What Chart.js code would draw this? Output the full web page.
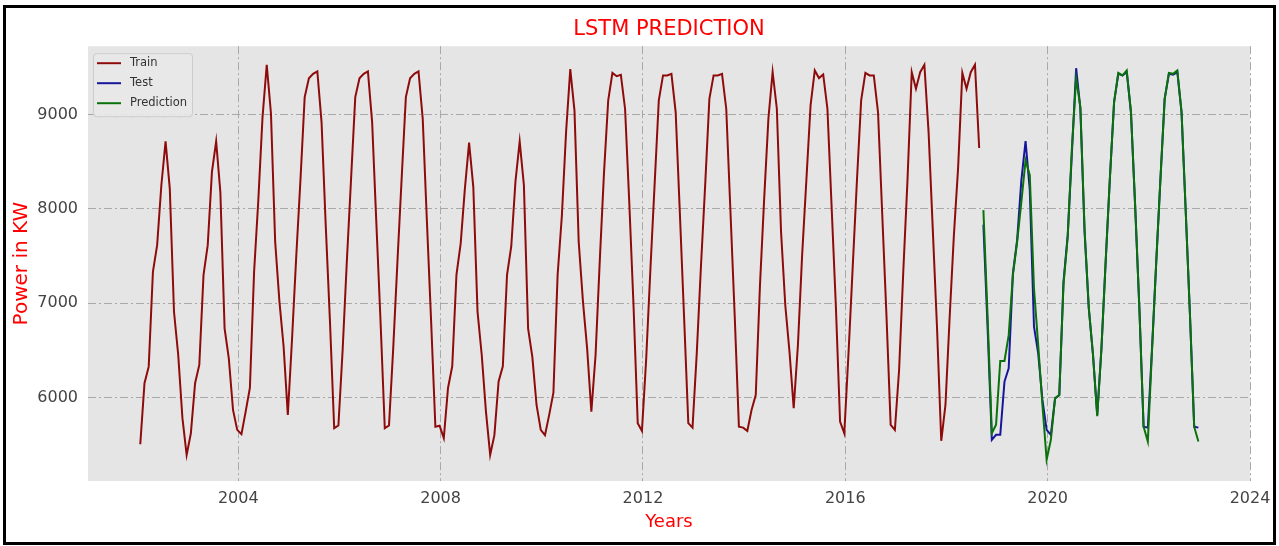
<!DOCTYPE html>
<html>
<head>
<meta charset="utf-8">
<script src="https://cdn.jsdelivr.net/npm/chart.js@4.4.1/dist/chart.umd.min.js"></script>
<style>
  html, body { margin: 0; padding: 0; background: #fff; }
  #wrap { position: relative; width: 1279px; height: 546px; }
  #frame { position: absolute; left: 3px; top: 5px; width: 1267px; height: 534px; border: 3px solid #000; pointer-events: none; }
</style>
</head>
<body>
<div id="wrap">
  <canvas id="chart" width="1279" height="546" style="width:1279px;height:546px"></canvas>
  <div id="frame"></div>
</div>
<script>
// monthly power readings (month-end), first month of each series
const trainStart = [2002, 1];
const testStart = [2018, 9];

const train = [
  5504, 6150, 6326, 7332, 7614, 8249, 8714, 8213, 6908, 6450, 5780, 5391,
  5620, 6150, 6344, 7296, 7614, 8390, 8714, 8175, 6732, 6414, 5868, 5656,
  5610, 5850, 6100, 7332, 8090, 8972, 9526, 9010, 7650, 7020, 6540, 5815,
  6619, 7497, 8309, 9183, 9384, 9430, 9455, 8919, 7818, 6802, 5674, 5702,
  6500, 7444, 8316, 9183, 9384, 9430, 9455, 8919, 7850, 6800, 5674, 5702,
  6520, 7437, 8320, 9183, 9384, 9430, 9455, 8955, 7860, 6800, 5690, 5700,
  5568, 6100, 6330, 7300, 7630, 8213, 8700, 8230, 6910, 6450, 5850, 5390,
  5600, 6170, 6330, 7300, 7600, 8290, 8714, 8250, 6730, 6430, 5920, 5656,
  5600, 5815, 6050, 7300, 7920, 8810, 9480, 9040, 7650, 7020, 6520, 5850,
  6450, 7450, 8380, 9150, 9440, 9405, 9420, 9060, 8062, 6980, 5727, 5645,
  6400, 7350, 8250, 9150, 9413, 9413, 9430, 9025, 7950, 6850, 5727, 5680,
  6464, 7390, 8250, 9166, 9413, 9413, 9430, 9060, 7966, 6873, 5690, 5680,
  5645, 5867, 6025, 7190, 8110, 8955, 9450, 9060, 7755, 6980, 6485, 5885,
  6555, 7508, 8300, 9095, 9466, 9385, 9423, 9060, 8016, 6970, 5744, 5620,
  6467, 7384, 8300, 9148, 9440, 9413, 9413, 9025, 7945, 6873, 5710, 5656,
  6290, 7340, 8310, 9448, 9272, 9448, 9526, 8810, 7773, 6735, 5540, 5920,
  6855, 7720, 8435, 9440, 9272, 9448, 9526, 8644
];

const test = [
  7832, 6730, 5550, 5603,
  5603, 6168, 6309, 7314, 7667, 8300, 8718, 8200, 6750, 6467, 5973, 5656,
  5603, 5990, 6025, 7226, 7720, 8600, 9490, 9060, 7755, 6944, 6450, 5815,
  6520, 7437, 8320, 9130, 9430, 9413, 9448, 9025, 8026, 6944, 5690, 5680,
  6520, 7437, 8320, 9166, 9430, 9420, 9448, 9025, 7965, 6873, 5690, 5680
];

const prediction = [
  7985, 6850, 5620, 5710,
  6386, 6386, 6660, 7300, 7650, 8070, 8513, 8355, 7155, 6555, 5920, 5340,
  5550, 5990, 6025, 7200, 7700, 8650, 9380, 9080, 7780, 6950, 6450, 5800,
  6520, 7440, 8320, 9130, 9440, 9413, 9466, 9025, 8030, 6944, 5690, 5533,
  6500, 7437, 8320, 9166, 9440, 9430, 9466, 9025, 7965, 6873, 5690, 5533
];

const xTicks = [2004, 2008, 2012, 2016, 2020, 2024];
const yTicks = [6000, 7000, 8000, 9000];

function monthly(start, values) {
  return values.map((v, i) => ({ x: start[0] + (start[1] + i) / 12 - 0.02, y: v }));
}

const plotBg = {
  id: 'plotBg',
  beforeDraw(chart) {
    const { ctx, chartArea: a } = chart;
    ctx.save();
    ctx.fillStyle = '#e5e5e5';
    ctx.fillRect(a.left, a.top, a.right - a.left, a.bottom - a.top);
    ctx.restore();
  }
};

const boxLegend = {
  id: 'boxLegend',
  afterDraw(chart) {
    const { ctx, chartArea: a } = chart;
    const x0 = a.left + 5, y0 = a.top + 7;
    ctx.save();
    ctx.fillStyle = 'rgba(232,232,232,0.9)';
    ctx.strokeStyle = '#cccccc';
    ctx.lineWidth = 1;
    ctx.beginPath();
    ctx.roundRect(x0 + 0.5, y0 + 0.5, 99, 63, 3);
    ctx.fill();
    ctx.stroke();
    const items = chart.data.datasets.slice().sort((p, q) => p.legendRank - q.legendRank);
    items.forEach((ds, i) => {
      const y = y0 + 10 + i * 20;
      ctx.strokeStyle = ds.borderColor;
      ctx.lineWidth = 2;
      ctx.beginPath();
      ctx.moveTo(x0 + 4, y);
      ctx.lineTo(x0 + 28, y);
      ctx.stroke();
      ctx.fillStyle = '#333333';
      ctx.font = '11.5px "DejaVu Sans"';
      ctx.textBaseline = 'middle';
      ctx.fillText(ds.label, x0 + 37, y);
    });
    ctx.restore();
  }
};

const gridDash = [8, 3, 2, 3];

new Chart(document.getElementById('chart'), {
  type: 'line',
  data: {
    datasets: [
      { label: 'Prediction', legendRank: 2, order: 0, data: monthly(testStart, prediction), borderColor: '#0a720a', borderWidth: 2 },
      { label: 'Test', legendRank: 1, order: 1, data: monthly(testStart, test), borderColor: '#16169c', borderWidth: 2 },
      { label: 'Train', legendRank: 0, order: 2, data: monthly(trainStart, train), borderColor: '#8e0b0b', borderWidth: 2 }
    ]
  },
  options: {
    responsive: false,
    animation: false,
    elements: { point: { radius: 0 }, line: { tension: 0, fill: false } },
    layout: { padding: { left: 0, right: 29, top: 0, bottom: 0 } },
    plugins: {
      legend: { display: false },
      tooltip: { enabled: false },
      title: {
        display: true,
        text: 'LSTM PREDICTION',
        color: '#ff0000',
        fullSize: false,
        font: { family: 'DejaVu Sans', size: 21, weight: 'normal' },
        padding: { top: 17, bottom: 4 }
      }
    },
    scales: {
      x: {
        type: 'linear',
        min: 2001.03,
        max: 2024.0,
        afterBuildTicks(scale) { scale.ticks = xTicks.map(v => ({ value: v })); },
        afterFit(scale) { scale.height = 65; scale.paddingLeft = 0; scale.paddingRight = 0; },
        grid: { color: '#a8a8a8', lineWidth: 1, drawTicks: false },
        border: { display: false, dash: gridDash },
        ticks: { color: '#444444', padding: 8, font: { family: 'DejaVu Sans', size: 16 }, maxRotation: 0, callback: v => String(v) },
        title: { display: true, text: 'Years', color: '#ff0000', font: { family: 'DejaVu Sans', size: 18 }, padding: { top: 0, bottom: 13 } }
      },
      y: {
        type: 'linear',
        min: 5114,
        max: 9723,
        afterBuildTicks(scale) { scale.ticks = yTicks.map(v => ({ value: v })); },
        afterFit(scale) { scale.width = 88; scale.paddingTop = 0; scale.paddingBottom = 0; },
        grid: { color: '#a8a8a8', lineWidth: 1, drawTicks: false },
        border: { display: false, dash: gridDash },
        ticks: { color: '#444444', padding: 10, font: { family: 'DejaVu Sans', size: 16 }, callback: v => String(v) },
        title: { display: true, text: 'Power in KW', color: '#ff0000', font: { family: 'DejaVu Sans', size: 20 }, padding: { top: 10, bottom: 0 } }
      }
    }
  },
  plugins: [plotBg, boxLegend]
});
</script>
</body>
</html>
